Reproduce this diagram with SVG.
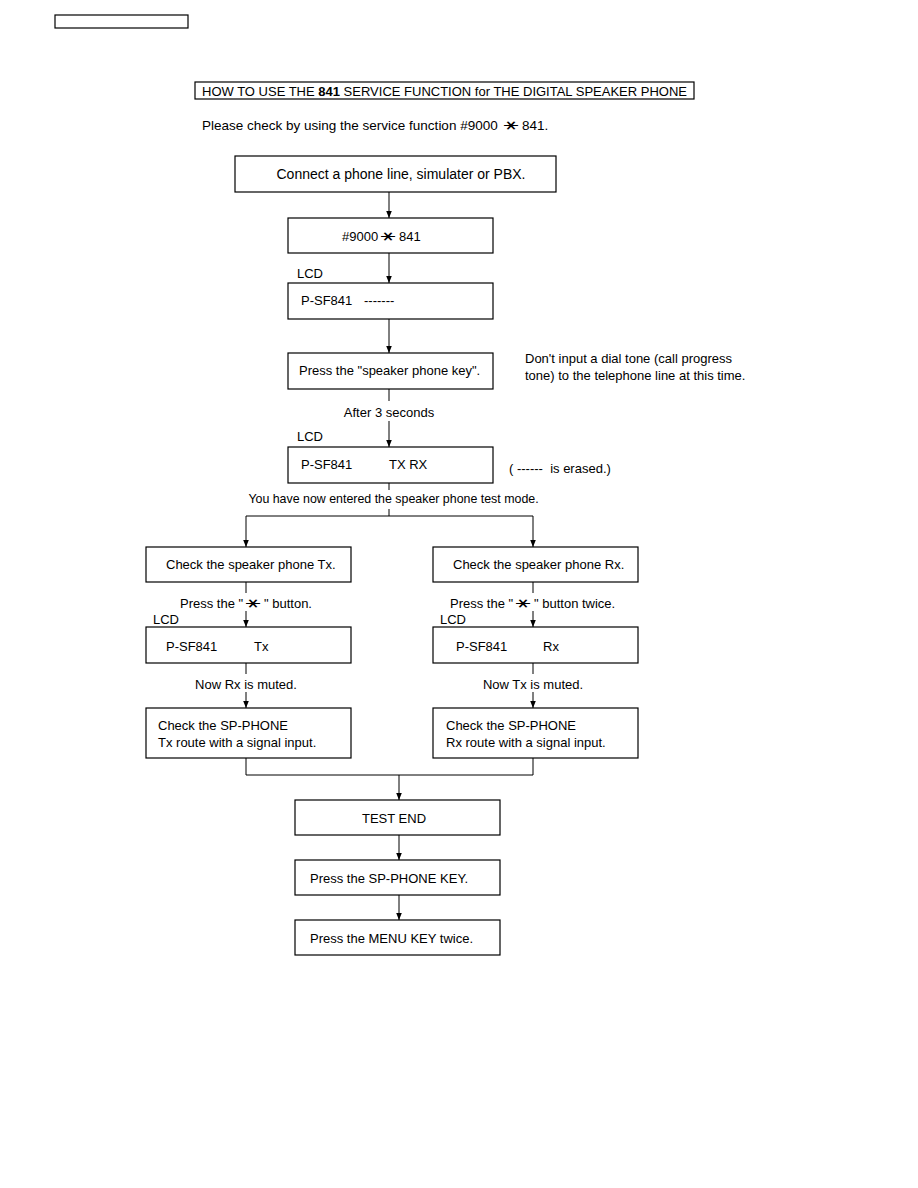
<svg xmlns="http://www.w3.org/2000/svg" width="918" height="1188" viewBox="0 0 918 1188">
<defs>
<marker id="ah" markerWidth="8" markerHeight="8" refX="7" refY="4" orient="auto" markerUnits="userSpaceOnUse">
<path d="M0,1.2 L7,4 L0,6.8 Z" fill="#000"/>
</marker>
<style>
rect{fill:#fff;stroke:#000;stroke-width:1.2}
text{font-family:"Liberation Sans",Arial,sans-serif;font-size:13px;fill:#000}
.c{text-anchor:middle}
text.sym{font-family:"DejaVu Sans",sans-serif;font-size:14px;text-anchor:middle;dominant-baseline:central}
#connectors line,#connectors path{stroke:#000;stroke-width:1;fill:none}
</style>
</defs>
<rect x="0" y="0" width="918" height="1188" style="fill:#fff;stroke:none"/>
<g id="header"><rect x="55" y="15" width="133" height="13"/></g>
<g id="title"><rect x="195" y="82" width="499" height="17"/>
<text x="202" y="96">HOW TO USE THE <tspan font-weight="bold">841</tspan> SERVICE FUNCTION for THE DIGITAL SPEAKER PHONE</text></g>
<g id="intro">
<text x="202" y="130" style="font-size:13.5px">Please check by using the service function #9000</text>
<text class="sym" transform="translate(511.5,125.5) rotate(90) scale(1,1.6)">∗</text>
<text x="522" y="130" style="font-size:13.5px">841.</text>
</g>

<g id="connectors">
<line x1="389" y1="192" x2="389" y2="218" marker-end="url(#ah)"/>
<line x1="389" y1="253" x2="389" y2="283" marker-end="url(#ah)"/>
<line x1="389" y1="319" x2="389" y2="353" marker-end="url(#ah)"/>
<line x1="389" y1="389" x2="389" y2="401"/>
<line x1="389" y1="421" x2="389" y2="447" marker-end="url(#ah)"/>
<line x1="389" y1="483" x2="389" y2="490"/>
<line x1="389" y1="509" x2="389" y2="516"/>
<line x1="246" y1="516" x2="533" y2="516"/>
<line x1="246" y1="516" x2="246" y2="547" marker-end="url(#ah)"/>
<line x1="533" y1="516" x2="533" y2="547" marker-end="url(#ah)"/>
<line x1="246" y1="582" x2="246" y2="593"/>
<line x1="246" y1="611" x2="246" y2="627" marker-end="url(#ah)"/>
<line x1="533" y1="582" x2="533" y2="593"/>
<line x1="533" y1="611" x2="533" y2="627" marker-end="url(#ah)"/>
<line x1="246" y1="663" x2="246" y2="674"/>
<line x1="246" y1="692" x2="246" y2="708" marker-end="url(#ah)"/>
<line x1="533" y1="663" x2="533" y2="674"/>
<line x1="533" y1="692" x2="533" y2="708" marker-end="url(#ah)"/>
<path d="M246,758 V775 H533 V758"/>
<line x1="399" y1="775" x2="399" y2="800" marker-end="url(#ah)"/>
<line x1="399" y1="835" x2="399" y2="860" marker-end="url(#ah)"/>
<line x1="399" y1="895" x2="399" y2="920" marker-end="url(#ah)"/>
</g>

<g id="n1"><rect x="235" y="156" width="321" height="36"/><text class="c" x="401" y="179" style="font-size:14px">Connect a phone line, simulater or PBX.</text></g>
<g id="n2"><rect x="288" y="218" width="205" height="35"/><text x="342" y="241">#9000</text><text class="sym" transform="translate(388.5,236.5) rotate(90) scale(1,1.6)">∗</text><text x="399" y="241">841</text></g>
<text x="297" y="278">LCD</text>
<g id="n3"><rect x="288" y="283" width="205" height="36"/><text x="301" y="305">P-SF841</text><text x="364" y="305">-------</text></g>
<g id="n4"><rect x="288" y="353" width="205" height="36"/><text x="299" y="375">Press the "speaker phone key".</text></g>
<text x="525" y="363">Don't input a dial tone (call progress</text>
<text x="525" y="380">tone) to the telephone line at this time.</text>
<text class="c" x="389" y="417">After 3 seconds</text>
<text x="297" y="441">LCD</text>
<g id="n5"><rect x="288" y="447" width="205" height="36"/><text x="301" y="469">P-SF841</text><text x="389" y="469">TX RX</text></g>
<text x="509" y="473" xml:space="preserve">( ------  is erased.)</text>
<text class="c" x="393.5" y="503" style="font-size:12.4px">You have now entered the speaker phone test mode.</text>

<g id="l1"><rect x="146" y="547" width="205" height="35"/><text x="166" y="569">Check the speaker phone Tx.</text></g>
<g id="r1"><rect x="433" y="547" width="205" height="35"/><text x="453" y="569">Check the speaker phone Rx.</text></g>
<g id="lbl-l"><text x="180" y="608">Press the "</text><text class="sym" transform="translate(253.5,603.5) rotate(90) scale(1,1.6)">∗</text><text x="264" y="608">" button.</text></g>
<g id="lbl-r"><text x="450" y="608">Press the "</text><text class="sym" transform="translate(523.5,603.5) rotate(90) scale(1,1.6)">∗</text><text x="534" y="608">" button twice.</text></g>
<text x="153" y="624">LCD</text>
<text x="440" y="624">LCD</text>
<g id="l2"><rect x="146" y="627" width="205" height="36"/><text x="166" y="651">P-SF841</text><text x="254" y="651">Tx</text></g>
<g id="r2"><rect x="433" y="627" width="205" height="36"/><text x="456" y="651">P-SF841</text><text x="543" y="651">Rx</text></g>
<text class="c" x="246" y="689">Now Rx is muted.</text>
<text class="c" x="533" y="689">Now Tx is muted.</text>
<g id="l3"><rect x="146" y="708" width="205" height="50"/><text x="158" y="730">Check the SP-PHONE</text><text x="158" y="747">Tx route with a signal input.</text></g>
<g id="r3"><rect x="433" y="708" width="205" height="50"/><text x="446" y="730">Check the SP-PHONE</text><text x="446" y="747">Rx route with a signal input.</text></g>
<g id="e1"><rect x="295" y="800" width="205" height="35"/><text class="c" x="394" y="823">TEST END</text></g>
<g id="e2"><rect x="295" y="860" width="205" height="35"/><text x="310" y="883">Press the SP-PHONE KEY.</text></g>
<g id="e3"><rect x="295" y="920" width="205" height="35"/><text x="310" y="943">Press the MENU KEY twice.</text></g>
</svg>
